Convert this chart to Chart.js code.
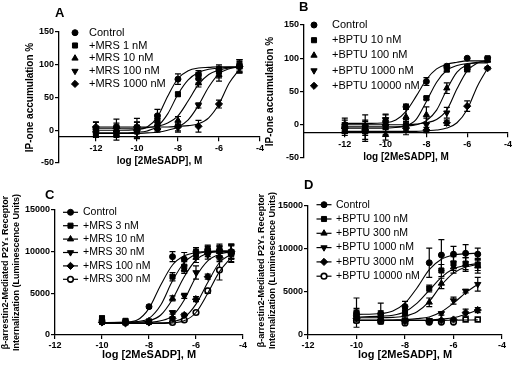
<!DOCTYPE html>
<html lang="en">
<head>
<meta charset="UTF-8" />
<title>P2Y1 antagonist concentration-response curves</title>
<script src="https://cdn.jsdelivr.net/npm/chart.js@4.4.1/dist/chart.umd.min.js"></script>
<style>
  body { margin: 0; background: #fff; overflow: hidden; }
  #wrap { position: relative; width: 513px; height: 366px; overflow: hidden; }
  #wrap canvas { position: absolute; }
  .tag { position: absolute; font: bold 13px "Liberation Sans", Arial, sans-serif; line-height: 13px; }
</style>
</head>
<body>
<div id="wrap">
  <canvas id="chartA" width="270" height="183" style="left:0;top:0"></canvas>
  <canvas id="chartB" width="270" height="183" style="left:256px;top:0"></canvas>
  <canvas id="chartC" width="256" height="183" style="left:0;top:183px"></canvas>
  <canvas id="chartD" width="257" height="183" style="left:256px;top:183px"></canvas>
  <div class="tag" style="left:55px;top:6px">A</div>
  <div class="tag" style="left:299px;top:0px">B</div>
  <div class="tag" style="left:45px;top:188px">C</div>
  <div class="tag" style="left:304px;top:178px">D</div>
</div>

<script>
  // ---- Panel A: IP-one, MRS2500 ----
  const labelsA = ['Control', '+MRS 1 nM', '+MRS 10 nM', '+MRS 100 nM', '+MRS 1000 nM'];
  const doseA = [-12, -11, -10, -9, -8, -7, -6, -5];
  const meanA = [
    [2, 5, 0, 22, 78, 85, 93, 98],
    [-3, -5, -2, 15, 55, 80, 90, 100],
    [0, 0, 3, 10, 15, 72, 85, 97],
    [-5, -3, -3, 5, 5, 38, 88, 95],
    [5, 3, 5, 2, 5, 6, 40, 97]
  ];
  const semA = [
    [10, 12, 12, 10, 8, 6, 7, 10],
    [8, 10, 10, 8, 3, 8, 8, 8],
    [6, 8, 15, 8, 6, 6, 10, 8],
    [6, 8, 10, 6, 8, 4, 8, 6],
    [8, 8, 8, 5, 6, 9, 6, 10]
  ];
  const fitXA = [-12, -11, -10, -9.5, -9, -8.5, -8, -7.5, -7, -6.5, -6, -5.5, -5];
  const fitA = [
    [0, 0, 1, 5, 20, 52, 79, 91, 95, 96, 97, 97, 97],
    [-4, -4, -3, -1, 6, 25, 55, 77, 88, 93, 95, 96, 96],
    [3, 3, 3, 4, 6, 11, 22, 45, 70, 85, 92, 95, 96],
    [-5, -5, -5, -4, -3, 0, 5, 16, 38, 66, 86, 94, 97],
    [5, 5, 5, 5, 5, 5, 6, 7, 10, 19, 40, 72, 93]
  ];

  // ---- Panel B: IP-one, BPTU ----
  const labelsB = ['Control', '+BPTU 10 nM', '+BPTU 100 nM', '+BPTU 1000 nM', '+BPTU 10000 nM'];
  const doseB = [-12, -11, -10, -9, -8, -7, -6, -5];
  const meanB = [
    [0, -3, 5, 27, 65, 88, 100, null],
    [-8, -10, -3, 0, 40, 83, 85, 100],
    [-3, -5, -15, 12, 15, 55, 85, 97],
    [-5, -3, 8, -3, 0, 18, 85, 98],
    [-5, -8, 0, -5, -8, 3, 28, 85]
  ];
  const semB = [
    [10, 8, 10, 4, 6, 3, 0, 0],
    [8, 12, 12, 8, 2, 3, 4, 2],
    [10, 20, 8, 18, 12, 8, 5, 3],
    [8, 10, 8, 8, 10, 8, 5, 3],
    [8, 8, 10, 10, 4, 4, 8, 2]
  ];
  const fitXB = [-12, -11, -10, -9.5, -9, -8.5, -8, -7.5, -7, -6.5, -6, -5.5, -5];
  const fitB = [
    [2, 2, 3, 7, 20, 43, 68, 84, 91, 94, 96, 96, 96],
    [-5, -5, -5, -4, -2, 8, 35, 64, 82, 89, 92, 93, 93],
    [-3, -3, -3, -3, -2, 0, 6, 22, 53, 79, 90, 94, 95],
    [0, 0, 0, 0, 0, 1, 3, 8, 22, 54, 81, 93, 97],
    [-10, -10, -10, -10, -10, -10, -9, -8, -5, 3, 23, 58, 85]
  ];

  // ---- Panel C: beta-arrestin2, MRS2500 ----
  const labelsC = ['Control', '+MRS 3 nM', '+MRS 10 nM', '+MRS 30 nM', '+MRS 100 nM', '+MRS 300 nM'];
  const doseC = [-10, -9, -8, -7, -6.5, -6, -5.5, -5, -4.5];
  const meanC = [
    [1600, 1500, 3400, 9400, 9100, 10000, 10200, 10100, 10000],
    [2000, 1700, 1600, 7000, 8200, 9700, 10200, 10200, 9700],
    [1700, 1600, 1700, 4400, 7900, 9300, 10000, 10000, 10000],
    [1600, 1500, 1600, 2700, 4700, 7500, 9600, 10000, 10000],
    [1500, 1400, 1500, 2000, 2400, 4300, 7000, 9300, 10000],
    [null, null, null, 1500, 1800, 2700, 5300, 7800, 9800]
  ];
  const semC = [
    [300, 200, 200, 600, 800, 500, 500, 600, 800],
    [300, 200, 200, 500, 600, 600, 600, 700, 1000],
    [200, 200, 200, 300, 500, 600, 600, 700, 900],
    [200, 200, 200, 200, 300, 800, 500, 600, 900],
    [200, 200, 200, 200, 200, 300, 300, 500, 800],
    [0, 0, 0, 150, 150, 200, 300, 1200, 1000]
  ];
  const fitXC = [-10, -9, -8.5, -8, -7.5, -7, -6.5, -6, -5.5, -5, -4.5];
  const fitC = [
    [1500, 1550, 1800, 3200, 6000, 8400, 9500, 9900, 10000, 10000, 10000],
    [1500, 1520, 1600, 2000, 3600, 6500, 8700, 9700, 10000, 10100, 10100],
    [1500, 1500, 1550, 1700, 2400, 4300, 7000, 9000, 9800, 10000, 10000],
    [1450, 1450, 1450, 1500, 1700, 2300, 4200, 7000, 8900, 9700, 10000],
    [1400, 1400, 1400, 1400, 1450, 1600, 2100, 3700, 6300, 8700, 9700],
    [1400, 1400, 1400, 1400, 1400, 1450, 1700, 2700, 5000, 7600, 9300]
  ];

  // ---- Panel D: beta-arrestin2, BPTU ----
  const labelsD = ['Control', '+BPTU 100 nM', '+BPTU 300 nM', '+BPTU 1000 nM', '+BPTU 3000 nM', '+BPTU 10000 nM'];
  const doseD = [-10, -9, -8, -7, -6.5, -6, -5.5, -5];
  const meanD = [
    [2600, 2500, 3300, 8400, 9300, 9400, 9500, 9400],
    [2200, 2300, 2700, 5400, 7500, 8300, 8300, 8200],
    [2500, 2000, 2400, 3800, 6000, 7900, 8200, 8000],
    [2000, 1900, 1700, 1700, 2500, 4000, 5100, 5900],
    [1900, 1700, 1600, 1600, 1700, 1800, 2600, 2900],
    [1700, 1600, 1400, 1500, 1500, 1500, 1800, 1800]
  ];
  const semD = [
    [1700, 1200, 600, 1700, 1800, 900, 1000, 700],
    [700, 500, 400, 400, 700, 800, 700, 700],
    [600, 500, 400, 500, 600, 700, 800, 800],
    [500, 400, 200, 200, 200, 400, 200, 800],
    [400, 300, 200, 150, 150, 150, 400, 300],
    [300, 200, 150, 100, 100, 100, 100, 100]
  ];
  const fitXD = [-10, -9, -8.5, -8, -7.5, -7, -6.5, -6, -5.5, -5];
  const fitD = [
    [2400, 2500, 2800, 3700, 5500, 7600, 8800, 9300, 9450, 9500],
    [2100, 2200, 2300, 2700, 3700, 5200, 6700, 7700, 8100, 8300],
    [2000, 2000, 2050, 2200, 2700, 3900, 5800, 7200, 7900, 8200],
    [1700, 1700, 1750, 1800, 1900, 2100, 2700, 3700, 4900, 5900],
    [1700, 1700, 1700, 1700, 1700, 1750, 1850, 2000, 2400, 2900],
    [1700, 1700, 1700, 1700, 1700, 1700, 1700, 1720, 1740, 1760]
  ];

  const xTitle = 'log [2MeSADP], M';
  const xTicksAB = [-12, -10, -8, -6, -4];
  const yTitleAB = 'IP-one accumulation %';
  const yTitleCD = ['\u03b2-arrestin2-Mediated P2Y\u2081 Receptor', 'Internalization (Luminescence Units)'];

  const FONT = '"Liberation Sans", Arial, sans-serif';
  Chart.defaults.font.family = FONT;
  Chart.defaults.color = '#000';
  Chart.defaults.animation = false;

  // marker for each series, in legend order
  const markers = [
    { style: 'circle', rot: 0, r: 3 },
    { style: 'rect', rot: 0, r: 3.6 },
    { style: 'triangle', rot: 0, r: 3.6 },
    { style: 'triangle', rot: 180, r: 3.6 },
    { style: 'rectRot', rot: 0, r: 3.6 },
    { style: 'circle', rot: 0, r: 2.8, open: true }
  ];

  // vertical SEM bars with caps
  const errorBars = {
    id: 'errorBars',
    beforeDatasetsDraw(chart) {
      const ctx = chart.ctx, ys = chart.scales.y;
      ctx.save();
      ctx.strokeStyle = '#000';
      ctx.lineWidth = 1.2;
      chart.data.datasets.forEach((ds, i) => {
        if (!ds.errors) return;
        const meta = chart.getDatasetMeta(i);
        meta.data.forEach((pt, j) => {
          const v = ds.data[j].y, e = ds.errors[j];
          if (v === null || !e) return;
          const top = ys.getPixelForValue(v + e), bot = ys.getPixelForValue(v - e);
          ctx.beginPath();
          ctx.moveTo(pt.x, top); ctx.lineTo(pt.x, bot);
          ctx.moveTo(pt.x - 3, top); ctx.lineTo(pt.x + 3, top);
          ctx.moveTo(pt.x - 3, bot); ctx.lineTo(pt.x + 3, bot);
          ctx.stroke();
        });
      });
      ctx.restore();
    }
  };

  // legend drawn inside the plot, Prism style
  const sideLegend = {
    id: 'sideLegend',
    afterDraw(chart, args, opts) {
      const ctx = chart.ctx;
      const items = chart.data.datasets.filter(d => d.label);
      ctx.save();
      ctx.font = opts.font;
      ctx.textBaseline = 'middle';
      items.forEach((d, i) => {
        const y = opts.y + i * opts.rowH;
        if (opts.line) {
          ctx.beginPath();
          ctx.moveTo(opts.x - 7.5, y); ctx.lineTo(opts.x + 7.5, y);
          ctx.lineWidth = 1.2; ctx.strokeStyle = '#000';
          ctx.stroke();
        }
        ctx.fillStyle = d.mk.open ? '#fff' : '#000';
        ctx.strokeStyle = '#000';
        ctx.lineWidth = d.mk.open ? 1.6 : 1;
        Chart.helpers.drawPoint(ctx, { pointStyle: d.mk.style, rotation: d.mk.rot, radius: d.mk.r, borderWidth: ctx.lineWidth }, opts.x, y);
        ctx.fillStyle = '#000';
        ctx.fillText(d.label, opts.textX, y);
      });
      ctx.restore();
    }
  };

  function buildDatasets(labels, dose, mean, sem, fitX, fit, lastRect) {
    const ds = [];
    fit.forEach(c => {
      ds.push({
        type: 'line',
        data: fitX.map((x, k) => ({ x: x, y: c[k] })),
        borderColor: '#000', borderWidth: 1.1, pointRadius: 0,
        cubicInterpolationMode: 'monotone', fill: false
      });
    });
    mean.forEach((m, i) => {
      const mk = markers[i];
      const useRect = lastRect && i === mean.length - 1;
      ds.push({
        type: 'scatter',
        label: labels[i],
        mk: mk,
        data: dose.map((x, k) => ({ x: x, y: m[k] })),
        errors: sem[i],
        pointStyle: useRect ? (c => c.dataIndex >= dose.length - lastRect ? 'rect' : 'circle') : mk.style,
        pointRotation: mk.rot,
        pointRadius: useRect ? (c => c.dataIndex >= dose.length - lastRect ? 3.4 : mk.r) : mk.r,
        backgroundColor: mk.open ? '#fff' : '#000',
        borderColor: '#000',
        borderWidth: mk.open ? 1.6 : 1,
        showLine: false
      });
    });
    return ds;
  }

  const tickFont = { size: 9, weight: 'bold', family: FONT };
  const axisGrid = { drawOnChartArea: false, drawTicks: true, tickLength: 4, color: '#000', lineWidth: 1.2 };
  const axisBorder = { color: '#000', width: 1.3 };

  function ipOneChart(id, labels, dose, mean, sem, fitX, fit, p) {
    return new Chart(document.getElementById(id), {
      type: 'scatter',
      data: { datasets: buildDatasets(labels, dose, mean, sem, fitX, fit, 0) },
      options: {
        responsive: false,
        devicePixelRatio: 1,
        layout: { padding: { top: p.top, right: p.right, bottom: p.bottom, left: 0 } },
        plugins: {
          legend: { display: false },
          tooltip: { enabled: false },
          sideLegend: p.legend
        },
        scales: {
          x: {
            type: 'linear', position: { y: p.xAt }, min: p.xMin, max: -4,
            afterBuildTicks: s => { s.ticks = xTicksAB.map(v => ({ value: v })); },
            ticks: { font: tickFont, color: '#000', padding: 2, callback: v => String(v) },
            grid: axisGrid, border: axisBorder,
            title: { display: true, text: xTitle, color: '#000', font: { size: 10, weight: 'bold' }, padding: { top: 0, bottom: 0 } }
          },
          y: {
            min: -50, max: 150,
            afterFit: s => { s.width = p.yWidth; },
            ticks: { stepSize: 50, font: tickFont, color: '#000', padding: 1, callback: v => String(v) },
            grid: axisGrid, border: axisBorder,
            title: { display: true, text: yTitleAB, color: '#000', font: { size: 10, weight: 'bold' }, padding: { top: p.titlePad, bottom: 0 } }
          }
        }
      },
      plugins: [errorBars, sideLegend]
    });
  }

  function arrestinChart(id, labels, dose, mean, sem, fitX, fit, p) {
    return new Chart(document.getElementById(id), {
      type: 'scatter',
      data: { datasets: buildDatasets(labels, dose, mean, sem, fitX, fit, p.lastRect || 0) },
      options: {
        responsive: false,
        devicePixelRatio: 1,
        layout: { padding: { top: p.top, right: p.right, bottom: 0, left: 0 } },
        plugins: {
          legend: { display: false },
          tooltip: { enabled: false },
          sideLegend: p.legend
        },
        scales: {
          x: {
            type: 'linear', position: 'bottom', min: -12, max: -4,
            afterFit: s => { s.height = 31; },
            ticks: { stepSize: 2, font: tickFont, color: '#000', padding: 1, callback: v => String(v) },
            grid: axisGrid, border: axisBorder,
            title: { display: true, text: xTitle, color: '#000', font: { size: 11, weight: 'bold' }, padding: { top: 0, bottom: 4 } }
          },
          y: {
            min: 0, max: 15000,
            afterFit: s => { s.width = p.yWidth; },
            ticks: { stepSize: 5000, font: tickFont, color: '#000', padding: 1, callback: v => String(v) },
            grid: axisGrid, border: axisBorder,
            title: { display: true, text: yTitleCD, color: '#000', font: { size: 9, weight: 'bold' }, padding: { top: 0, bottom: 0 } }
          }
        }
      },
      plugins: [errorBars, sideLegend]
    });
  }

  ipOneChart('chartA', labelsA, doseA, meanA, semA, fitXA, fitA, {
    top: 32, right: 10, bottom: 20, yWidth: 59, titlePad: 24, xAt: -10, xMin: -13.8,
    legend: { x: 75, textX: 89, y: 32.7, rowH: 12.8, font: '11px ' + FONT, line: false }
  });
  ipOneChart('chartB', labelsB, doseB, meanB, semB, fitXB, fitB, {
    top: 25, right: 18, bottom: 25, yWidth: 48, titlePad: 8, xAt: -12, xMin: -14,
    legend: { x: 58, textX: 76, y: 25, rowH: 15.2, font: '11px ' + FONT, line: false }
  });
  arrestinChart('chartC', labelsC, doseC, meanC, semC, fitXC, fitC, {
    top: 27, right: 13, yWidth: 55,
    legend: { x: 70.5, textX: 83, y: 29.3, rowH: 13.4, font: '10.5px ' + FONT, line: true }
  });
  arrestinChart('chartD', labelsD, doseD, meanD, semD, fitXD, fitD, {
    top: 23, right: 11, yWidth: 52, lastRect: 2,
    legend: { x: 68, textX: 80, y: 21.7, rowH: 14.3, font: '10.5px ' + FONT, line: true }
  });
</script>
</body>
</html>
